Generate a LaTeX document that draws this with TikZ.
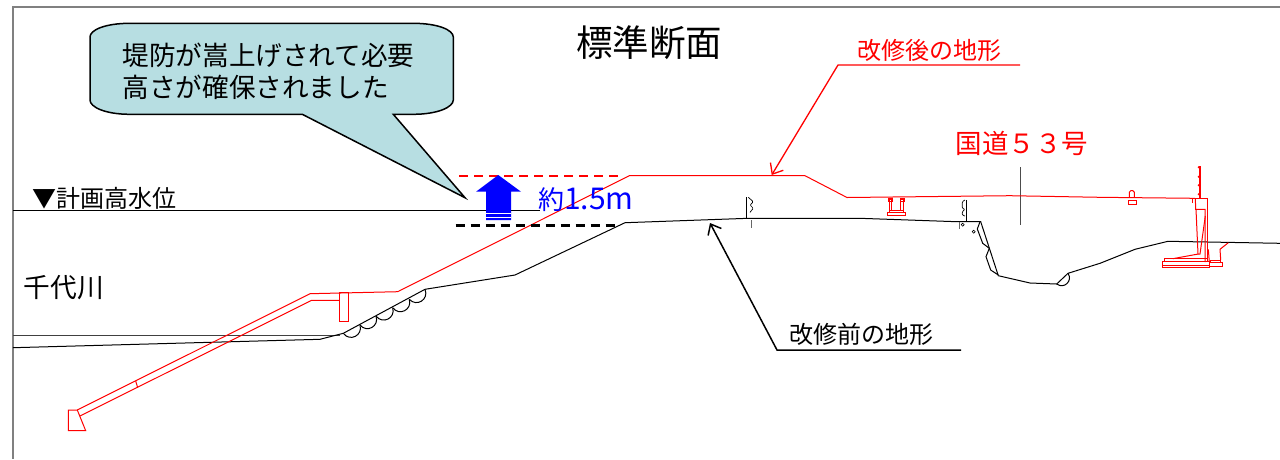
\documentclass[tikz,border=0pt]{standalone}
\usepackage{fontspec}
\setmainfont{Noto Sans CJK JP}
\usetikzlibrary{arrows.meta}
\definecolor{calloutfill}{RGB}{183,222,226}
\tikzset{
	frameline/.style={draw=black!50, line width=2pt},
	oldline/.style={draw=black, line width=1pt},
	newline/.style={draw=red, line width=1pt},
	leadred/.style={-{Straight Barb[width=15pt,length=9pt]},draw=red, line width=1.3pt},
	leadblack/.style={-{Straight Barb[width=15pt,length=9pt]},draw=black, line width=1.5pt},
	levelred/.style={draw=red, dash pattern=on 9pt off 6pt, line width=2.5pt},
	levelblack/.style={draw=black, dash pattern=on 9pt off 6pt, line width=2.5pt},
	lab/.style={inner sep=0pt, font=\fontsize{24}{28}\selectfont},
	bump/.style={oldline, bend right=80, looseness=1.5},
	callout/.style={fill=calloutfill, draw=black, line width=1.5pt}
}
\begin{document}
\begin{tikzpicture}[x=1pt,y=-1pt]
		\useasboundingbox (0,0) rectangle (1280,459);
		\draw [frameline] (1280,7.3) to (13.3,7.3) to (13.3,459);

		% water level and old ground
		\draw [oldline, black!75] (13,335.7) to (340,335.7);
		\draw [oldline] (13,210.7) to (540,210.7);
		\draw [oldline] (13,347.7) -- (320,339.3) -- (343.3,333.3) -- (425,289.3) -- (515,275) -- (625,222.7)
			-- (748.3,218.3) -- (860,218.3) -- (956.7,221.7) -- (980.7,221.7) -- (998.3,275.7) -- (1030,283)
			-- (1056.7,284) -- (1068,273.3) -- (1100,263.3) -- (1135,249.3) -- (1168,241.3) -- (1280,243.3);
		\draw [bump] (343.3,333.3) to (360,325);
		\draw [bump] (360,325) to (376,316);
		\draw [bump] (376,316) to (392.7,307.7);
		\draw [bump] (392.7,307.7) to (409.3,299.3);
		\draw [bump] (409.3,299.3) to (425,289.3);
		\draw [bump] (1056.7,284) to (1068,273.3);
		\draw [oldline] (980,221.7) -- (977.3,229) -- (982.7,243.3) -- (989.3,248.3) -- (986,256.7) -- (990.7,270) -- (998.3,275);

		% fences on old road
		\draw [oldline] (746.7,197.3) to (746.7,218.3);
		\draw [oldline, line width=0.7pt, rounded corners=1pt] (748.3,197.3) -- (753.3,201.7) -- (750,205) -- (753.3,208.3) -- (750,212.3);
		\draw [oldline, black!60] (751.7,220) to (751.7,227.7);
		\draw [oldline] (966.3,200) to (966.3,221.7);
		\draw [oldline, line width=0.7pt, rounded corners=1pt] (965,200) -- (962.3,201.7) -- (962.3,208.3) -- (965,209.3) -- (962.3,211.7) -- (962.3,215) -- (965,216);
		\draw [oldline, black!60] (959,221.7) to (959,229);
		\draw [oldline, line width=0.6pt] (962.7,224.7) circle (1.5);
		\draw [oldline, line width=0.6pt] (973.7,231.7) circle (1.5);
		\draw [oldline, black!70] (1020,167) to (1020,225);

		% new ground
		\draw [newline] (77.3,410) -- (310,293.7) -- (397.7,291.7) -- (629.3,175.7) -- (805,175.7) -- (847,197.5)
			-- (1010,195.7) -- (1100,197.3) -- (1195,198.3);
		\draw [newline] (80,416) -- (311.7,300.3) -- (339.3,300.3);
		\draw [newline] (339.3,292.7) rectangle (348.3,321.7);
		\draw [newline] (135.7,381) to (137.7,387.7);
		\draw [newline] (77.3,410) -- (68.3,410) -- (68.3,430.7) -- (85.7,430.7) -- cycle;

		% median and guard post
		\draw [newline] (887.3,212.7) rectangle (905,215);
		\draw [newline] (889,210) rectangle (903.3,212.7);
		\draw [newline] (889.3,199) rectangle (891.7,210);
		\draw [newline] (900.7,199) rectangle (903.3,210);
		\draw [newline] (888.5,198) rectangle (892.5,201);
		\draw [newline] (900,198) rectangle (904,201);
		\draw [newline, rounded corners=1.5pt] (1129.3,197.3) -- (1129.3,190.7) -- (1134.3,190.7) -- (1134.3,197.3);
		\draw [newline] (1128.3,200.7) rectangle (1136.7,204.3);

		% retaining wall
		\draw [newline, line width=1.6pt] (1200,166) to (1200,198.3);
		\foreach \dotY in {167.3,176.7,185.3,194.3}
			\fill [red] (1198.7,\dotY) circle (1.1);
		\draw [newline] (1195,198.3) -- (1207.7,198.3) -- (1207.7,262);
		\draw [newline] (1192.7,198.3) to (1192.7,202.7);
		\draw [newline] (1195.3,198.3) -- (1195.7,209.3) -- (1205,209.3) -- (1205,262);
		\draw [newline] (1196,209.3) -- (1198,254) -- (1200,254) -- (1205.3,216);
		\draw [newline] (1172.7,258.7) -- (1198.3,254);
		\draw [newline] (1162.3,261.7) rectangle (1209.3,267.7);
		\draw [newline] (1162.3,265) to (1209.3,265);
		\draw [newline] (1164,261.7) -- (1164,258.7) -- (1208.3,258.7);
		\draw [newline] (1208.3,249.3) to (1209.3,261.7);
		\draw [newline] (1209.3,262.7) rectangle (1222.7,266.3);
		\draw [newline] (1210,262.7) -- (1210,260) -- (1220.7,260) -- (1220.7,262.7);
		\draw [newline] (1220.7,260) -- (1220,249.3) -- (1228.3,242.7);

		% height marks
		\coordinate (redL) at (459,176);
		\coordinate (redR) at (620,176);
		\coordinate (blackL) at (455.7,225.3);
		\coordinate (blackR) at (616.7,225.3);
		\draw [levelred] (redL) to (redR);
		\draw [levelblack] (blackL) to (blackR);
		\fill [blue] (498.3,175) -- (521,191.7) -- (511,191.7) -- (511,220) -- (486,220) -- (486,191.7) -- (476,191.7) -- cycle;
		\draw [white, line width=0.9pt] (486,213.5) to (511,213.5);
		\draw [white, line width=0.9pt] (486,217) to (511,217);

		% callout
		\draw [callout] (130,23.3) -- (413,23.3) .. controls (438,23.3) and (453.3,30) .. (453.3,37)
			-- (453.3,100) .. controls (453.3,107) and (438,114.3) .. (413,114.3) -- (393.3,114.3) -- (465,197.7)
			-- (302.3,114.3) -- (130,114.3) .. controls (105,114.3) and (90,107) .. (90,100)
			-- (90,37) .. controls (90,30) and (105,23.3) .. (130,23.3) -- cycle;

		% labels
		\node [lab, anchor=west, align=left, font=\fontsize{26.6}{32.5}\selectfont] (calloutText) at (122.5,71.5) {堤防が嵩上げされて必要\\高さが確保されました};
		\node [lab, font=\fontsize{36.5}{40}\selectfont] (title) at (649,43) {標準断面};
		\node [lab] (levelLabel) at (104,198) {▼計画高水位};
		\node [lab, font=\fontsize{26.7}{30}\selectfont] (riverLabel) at (64,288) {千代川};
		\node [lab, blue, font=\fontsize{26}{30}\selectfont] (heightLabel) at (586,200) {約{\fontsize{30}{30}\selectfont 1.5m}};
		\node [lab, red] (afterLabel) at (929,50) {改修後の地形};
		\node [lab, font=\fontsize{26.5}{30}\selectfont, red] (roadLabel) at (1022,143) {国道５３号};
		\node [lab] (beforeLabel) at (861,334) {改修前の地形};

		% leaders
		\coordinate (afterEnd) at (1020,65);
		\coordinate (afterBend) at (838,65);
		\coordinate (afterTip) at (771.7,175);
		\coordinate (beforeEnd) at (961,350);
		\coordinate (beforeBend) at (777,350);
		\coordinate (beforeTip) at (710,223);
		\draw [leadred] (afterEnd) -- (afterBend) -- (afterTip);
		\draw [leadblack] (beforeEnd) -- (beforeBend) -- (beforeTip);
	\end{tikzpicture}
\end{document}
